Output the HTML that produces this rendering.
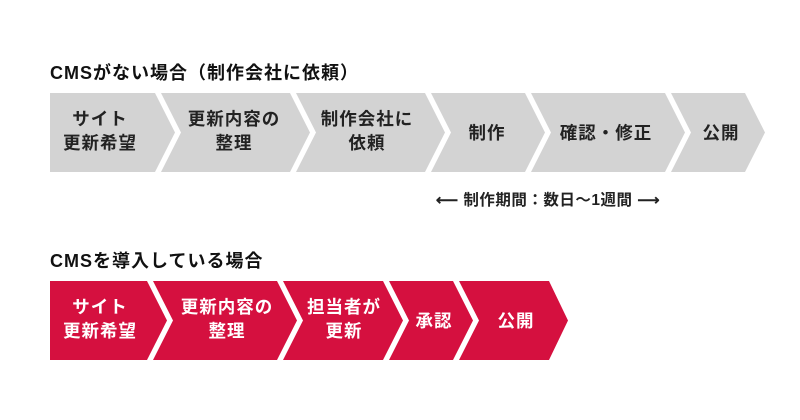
<!DOCTYPE html>
<html><head><meta charset="utf-8"><style>
html,body{margin:0;padding:0;background:#fff;}
svg{display:block}
text{font-family:"Liberation Sans","Noto Sans CJK JP",sans-serif;font-weight:bold;}
</style></head><body>
<svg width="800" height="420" viewBox="0 0 800 420" xmlns="http://www.w3.org/2000/svg">
<text x="50" y="79" font-size="18" fill="#111" letter-spacing="1">CMSがない場合（制作会社に依頼）</text>
<g fill="#d3d3d3">
<polygon points="50,93 155,93 175,132.5 155,172 50,172"/>
<polygon points="161,93 290,93 310,132.5 290,172 161,172 181,132.5"/>
<polygon points="296,93 425,93 445,132.5 425,172 296,172 316,132.5"/>
<polygon points="431,93 525,93 545,132.5 525,172 431,172 451,132.5"/>
<polygon points="531,93 665,93 685,132.5 665,172 531,172 551,132.5"/>
<polygon points="671,93 745,93 765,132.5 745,172 671,172 691,132.5"/>
</g>
<g font-size="17.5" fill="#222" text-anchor="middle" letter-spacing="1">
<text x="100" y="125">サイト</text><text x="100" y="149">更新希望</text>
<text x="234" y="125">更新内容の</text><text x="234" y="149">整理</text>
<text x="367" y="125">制作会社に</text><text x="367" y="149">依頼</text>
<text x="487" y="139">制作</text>
<text x="606" y="139">確認・修正</text>
<text x="721" y="139">公開</text>
</g>
<text x="548" y="205" font-size="15.5" fill="#222" text-anchor="middle" letter-spacing="0.5">⟵ 制作期間：数日〜1週間 ⟶</text>
<text x="50" y="267" font-size="18" fill="#111" letter-spacing="1">CMSを導入している場合</text>
<g fill="#d5103f">
<polygon points="50,281 147,281 167,320.5 147,360 50,360"/>
<polygon points="153,281 277,281 297,320.5 277,360 153,360 173,320.5"/>
<polygon points="283,281 383,281 403,320.5 383,360 283,360 303,320.5"/>
<polygon points="389,281 453,281 473,320.5 453,360 389,360 409,320.5"/>
<polygon points="459,281 549,281 568,320.5 549,360 459,360 479,320.5"/>
</g>
<g font-size="17.5" fill="#fff" text-anchor="middle" letter-spacing="1">
<text x="100" y="313">サイト</text><text x="100" y="337">更新希望</text>
<text x="227" y="313">更新内容の</text><text x="227" y="337">整理</text>
<text x="344" y="313">担当者が</text><text x="344" y="337">更新</text>
<text x="434" y="327">承認</text>
<text x="516" y="327">公開</text>
</g>
</svg>
</body></html>
